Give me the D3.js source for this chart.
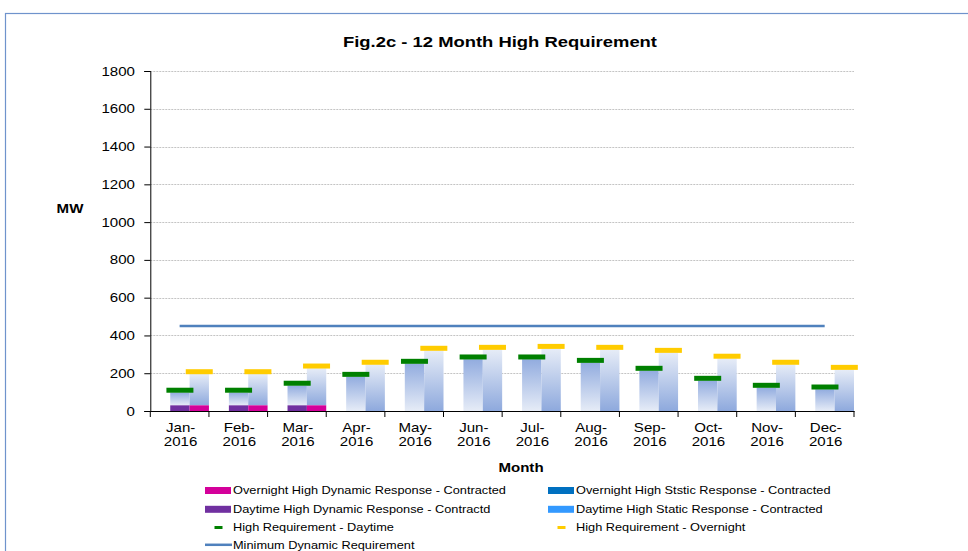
<!DOCTYPE html>
<html>
<head>
<meta charset="utf-8">
<script src="https://cdn.jsdelivr.net/npm/d3@7/dist/d3.min.js"></script>
<style>
  html, body { margin: 0; padding: 0; background: #fff; }
  svg { display: block; font-family: "Liberation Sans", Arial, sans-serif; }
</style>
</head>
<body>
<svg id="chart" width="968" height="551"></svg>
<script>
// ---- data ----
const months = ["Jan-2016", "Feb-2016", "Mar-2016", "Apr-2016", "May-2016", "Jun-2016",
                "Jul-2016", "Aug-2016", "Sep-2016", "Oct-2016", "Nov-2016", "Dec-2016"];
const yTicks = [0, 200, 400, 600, 800, 1000, 1200, 1400, 1600, 1800];

// contracted dynamic response (bottom of each stack)
const dayDynamic = [30, 30, 30, 0, 0, 0, 0, 0, 0, 0, 0, 0];
const nightDynamic = [30, 30, 30, 0, 0, 0, 0, 0, 0, 0, 0, 0];
// contracted static response (stacked on top)
const dayStatic = [68, 68, 105, 182, 251, 274, 274, 256, 214, 161, 124, 115];
const nightStatic = [166, 166, 196, 246, 320, 325, 330, 325, 309, 278, 246, 219];
// high requirement markers
const reqDay = [110, 110, 147, 194, 263, 286, 286, 268, 226, 173, 136, 127];
const reqNight = [208, 208, 238, 258, 332, 337, 342, 337, 321, 290, 258, 231];
// minimum dynamic requirement
const minDynamic = [450, 450, 450, 450, 450, 450, 450, 450, 450, 450, 450, 450];

// the source image text is a bit wider than normal Arial
const SX = 1.16;

const svg = d3.select("#chart");

// outer frame
svg.append("rect")
  .attr("x", 5.5).attr("y", 13.5)
  .attr("width", 980).attr("height", 560)
  .attr("fill", "none")
  .attr("stroke", "#6f93cc")
  .attr("stroke-width", 1.2);

const plot = { left: 150.3, right: 854, top: 71, bottom: 411 };

const x = d3.scaleBand().domain(months).range([plot.left, plot.right]);
const y = d3.scaleLinear().domain([0, 1800]).range([plot.bottom, plot.top]);
const bw = x.bandwidth();

// place a stretched text at (tx, ty)
function label(parent, tx, ty, str, size, opts = {}) {
  return parent.append("text")
    .attr("transform", `translate(${tx},${ty}) scale(${opts.sx || SX},1)`)
    .attr("text-anchor", opts.anchor || "start")
    .attr("font-size", size)
    .attr("font-weight", opts.bold ? "bold" : "normal")
    .attr("fill", "#000")
    .text(str);
}

// gradients for the static bars
const defs = svg.append("defs");
function grad(id, top, bottom) {
  const g = defs.append("linearGradient").attr("id", id)
    .attr("x1", 0).attr("y1", 0).attr("x2", 0).attr("y2", 1);
  g.append("stop").attr("offset", "0%").attr("stop-color", top);
  g.append("stop").attr("offset", "100%").attr("stop-color", bottom);
}
grad("dayGrad", "#92acdf", "#e6ecf7");
grad("nightGrad", "#e6ecf7", "#8ea9dd");

// title
svg.append("text")
  .attr("x", 500).attr("y", 47)
  .attr("text-anchor", "middle")
  .attr("font-size", 15).attr("font-weight", "bold")
  .attr("fill", "#000")
  .attr("textLength", 314)
  .attr("lengthAdjust", "spacingAndGlyphs")
  .text("Fig.2c - 12 Month High Requirement");

// gridlines
svg.append("g")
  .selectAll("line")
  .data(yTicks.filter(d => d > 0))
  .join("line")
  .attr("x1", plot.left).attr("x2", plot.right)
  .attr("y1", d => Math.round(y(d)) + 0.5).attr("y2", d => Math.round(y(d)) + 0.5)
  .attr("stroke", "#c4c4c4")
  .attr("stroke-dasharray", "2,1");

// bars
const dayX = m => x(m) + bw * 0.34;
const nightX = m => x(m) + bw * 0.67;
const barW = bw * 0.33;

const bars = svg.append("g");
months.forEach((m, i) => {
  const d0 = dayDynamic[i], n0 = nightDynamic[i];
  bars.append("rect")
    .attr("x", dayX(m)).attr("width", barW)
    .attr("y", y(d0 + dayStatic[i])).attr("height", y(d0) - y(d0 + dayStatic[i]))
    .attr("fill", "url(#dayGrad)");
  bars.append("rect")
    .attr("x", nightX(m)).attr("width", barW)
    .attr("y", y(n0 + nightStatic[i])).attr("height", y(n0) - y(n0 + nightStatic[i]))
    .attr("fill", "url(#nightGrad)");
  if (d0 > 0) {
    bars.append("rect")
      .attr("x", dayX(m)).attr("width", barW)
      .attr("y", y(d0)).attr("height", y(0) - y(d0))
      .attr("fill", "#7030a0");
  }
  if (n0 > 0) {
    bars.append("rect")
      .attr("x", nightX(m)).attr("width", barW)
      .attr("y", y(n0)).attr("height", y(0) - y(n0))
      .attr("fill", "#d4009a");
  }
});

// requirement markers
const markW = 27, markH = 5;
svg.append("g").selectAll("rect")
  .data(months)
  .join("rect")
  .attr("x", (m) => dayX(m) + barW / 2 - markW / 2)
  .attr("y", (m, i) => y(reqDay[i]) - markH / 2)
  .attr("width", markW).attr("height", markH)
  .attr("fill", "#008000");
svg.append("g").selectAll("rect")
  .data(months)
  .join("rect")
  .attr("x", (m) => nightX(m) + barW / 2 - markW / 2)
  .attr("y", (m, i) => y(reqNight[i]) - markH / 2)
  .attr("width", markW).attr("height", markH)
  .attr("fill", "#ffcc00");

// minimum dynamic requirement line
svg.append("path")
  .datum(minDynamic)
  .attr("fill", "none")
  .attr("stroke", "#4f81bd")
  .attr("stroke-width", 2.5)
  .attr("d", d3.line()
    .x((d, i) => x(months[i]) + bw / 2)
    .y(d => y(d)));

// y axis (ticks from d3, labels stretched like the source)
const yAxis = svg.append("g")
  .attr("transform", `translate(${plot.left},0)`)
  .call(d3.axisLeft(y).tickValues(yTicks).tickSize(6).tickPadding(0).tickFormat(""));
yAxis.select(".domain").attr("stroke", "#000");
yAxis.selectAll(".tick line").attr("stroke", "#000");
const yLabels = svg.append("g");
yTicks.forEach(t => label(yLabels, 135, y(t) + 4.5, d3.format("d")(t), 13, { anchor: "end" }));

// x axis
const xAxis = svg.append("g")
  .attr("transform", `translate(0,${plot.bottom})`)
  .call(d3.axisBottom(x).tickSize(0).tickFormat(""));
xAxis.select(".domain").attr("stroke", "#000");
xAxis.selectAll(".tick").remove();
svg.append("g").selectAll("line")
  .data(d3.range(months.length + 1))
  .join("line")
  .attr("x1", i => plot.left + i * bw).attr("x2", i => plot.left + i * bw)
  .attr("y1", plot.bottom).attr("y2", plot.bottom + 6)
  .attr("stroke", "#000");

const xLabels = svg.append("g");
months.forEach(m => {
  const cx = x(m) + bw / 2 + 1;
  label(xLabels, cx, 431.5, m.split("-")[0] + "-", 13, { anchor: "middle" });
  label(xLabels, cx, 446, m.split("-")[1], 13, { anchor: "middle" });
});

// axis titles
label(svg, 70, 213, "MW", 13, { anchor: "middle", bold: true });
label(svg, 521, 472, "Month", 13, { anchor: "middle", bold: true });

// legend
const legendItems = [
  { label: "Overnight High Dynamic Response - Contracted", kind: "rect", color: "#d4009a", col: 0, row: 0 },
  { label: "Overnight High Ststic Response - Contracted", kind: "rect", color: "#0070c0", col: 1, row: 0 },
  { label: "Daytime High Dynamic Response - Contractd", kind: "rect", color: "#7030a0", col: 0, row: 1 },
  { label: "Daytime High Static Response - Contracted", kind: "rect", color: "#3399ff", col: 1, row: 1 },
  { label: "High Requirement - Daytime", kind: "dash", color: "#008000", col: 0, row: 2 },
  { label: "High Requirement - Overnight", kind: "dash", color: "#ffcc00", col: 1, row: 2 },
  { label: "Minimum Dynamic Requirement", kind: "line", color: "#4f81bd", col: 0, row: 3 }
];
const colX = [205, 548];
const rowY = [490.5, 509.3, 527.5, 544.8];

const lg = svg.append("g").selectAll("g")
  .data(legendItems)
  .join("g")
  .attr("transform", d => `translate(${colX[d.col]},${rowY[d.row]})`);
lg.filter(d => d.kind === "rect").append("rect")
  .attr("x", 0).attr("y", -3.5).attr("width", 26).attr("height", 7)
  .attr("fill", d => d.color);
lg.filter(d => d.kind === "dash").append("rect")
  .attr("x", 9.5).attr("y", -1.5).attr("width", 8).attr("height", 3)
  .attr("fill", d => d.color);
lg.filter(d => d.kind === "line").append("line")
  .attr("x1", 0).attr("x2", 27).attr("y1", 0).attr("y2", 0)
  .attr("stroke", d => d.color).attr("stroke-width", 2.5);
lg.each(function (d) {
  label(d3.select(this), 28, 3.8, d.label, 11);
});
</script>
</body>
</html>
